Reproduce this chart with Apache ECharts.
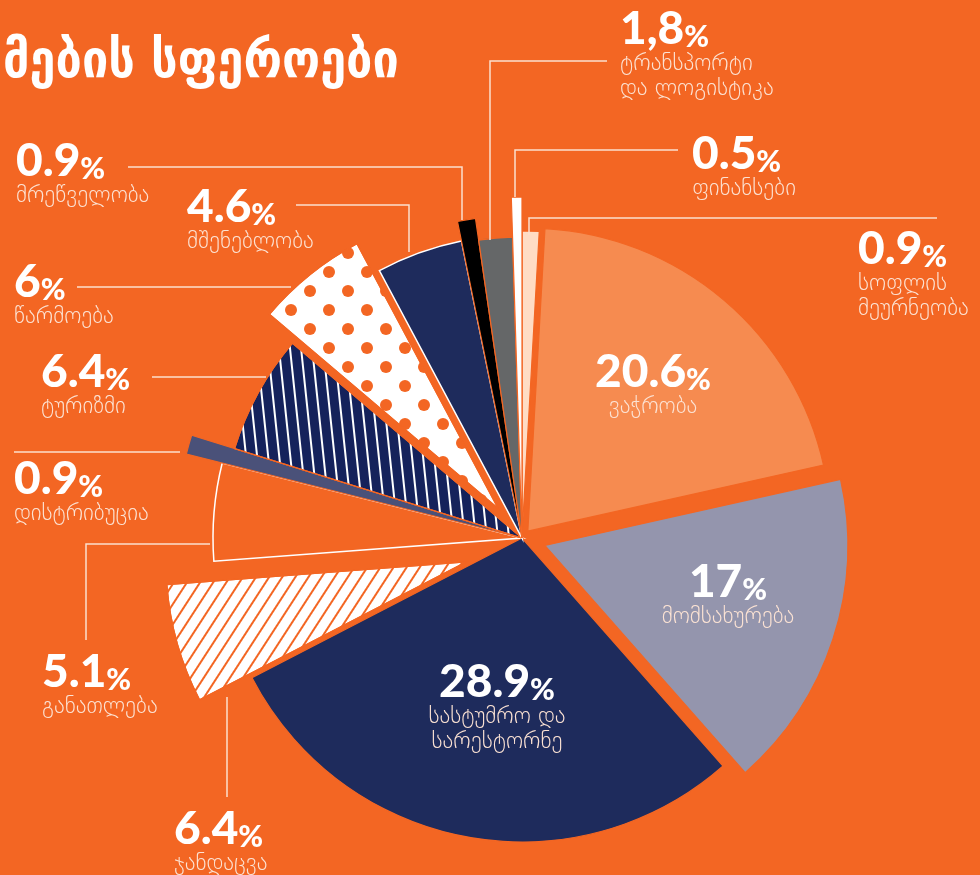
<!DOCTYPE html>
<html><head><meta charset="utf-8">
<script src="https://cdn.jsdelivr.net/npm/echarts@6/dist/echarts.min.js"></script>
<style>html,body{margin:0;padding:0;background:#F36623;} #c{width:980px;height:875px;}</style>
</head><body><div id="c"></div>
<script>
// ---- data ----
const categories = ['სოფლის\nმეურნეობა','ვაჭრობა','მომსახურება','სასტუმრო და\nსარესტორნე','ჯანდაცვა','განათლება','დისტრიბუცია','ტურიზმი','წარმოება','მშენებლობა','მრეწველობა','ტრანსპორტი\nდა ლოგისტიკა','ფინანსები'];
const values = [0.9, 20.6, 17, 28.9, 6.4, 5.1, 0.9, 6.4, 6, 4.6, 0.9, 1.8, 0.5];
const valueLabels = ['0.9','20.6','17','28.9','6.4','5.1','0.9','6.4','6','4.6','0.9','1,8','0.5'];
const titleText = 'მების სფეროები';

// ---- styling ----
const BG = '#F36623';
const BASE = [522, 538];
const stripesHealth = {symbol:'rect', color:BG, dashArrayX:[1,0], dashArrayY:[2,9], rotation: -57*Math.PI/180};
const stripesTour = {symbol:'rect', color:'#FFFFFF', dashArrayX:[1,0], dashArrayY:[1.6,8.6], rotation: 84*Math.PI/180};
const dots = {symbol:'circle', color:BG, symbolSize:1, dashArrayX:[[12,26],[0,19,12,7]], dashArrayY:[12,7], rotation:0};
const sliceStyle = [
  {r:303, off:4,  color:'#FFDCC4'},
  {r:303, off:9,  color:'#F68B50'},
  {r:303, off:24, color:'#9495AD'},
  {r:304, off:0,  color:'#1E2B5C'},
  {r:300, shift:[-56, 24], color:'#FFFFFF', decal:stripesHealth},
  {r:309, off:0,  color:BG, border:'#FFFFFF', bw:1.5},
  {r:346, off:0,  color:'#4A5179'},
  {r:301, off:0,  color:'#15225B', decal:stripesTour},
  {r:300, off:38, color:'#FFFFFF', decal:dots},
  {r:303, off:0,  color:'#1E2B5C', border:'#FFFFFF', bw:1.5},
  {r:323, off:0,  color:'#000000'},
  {r:301, off:0,  color:'#656768'},
  {r:341, off:0,  color:'#FFFFFF'}
];

const total = values.reduce((a,b)=>a+b,0);
let acc = 0;
const series = values.map((v, i) => {
  const startA = 90 - acc/total*360;
  acc += v;
  const endA = 90 - acc/total*360;
  const mid = (startA + endA)/2 * Math.PI/180;
  const s = sliceStyle[i];
  let cx, cy;
  if (s.shift) { cx = BASE[0] + s.shift[0]; cy = BASE[1] + s.shift[1]; }
  else { cx = BASE[0] + s.off*Math.cos(mid); cy = BASE[1] - s.off*Math.sin(mid); }
  return {
    type:'pie', silent:true, animation:false, z:2,
    center:[cx, cy], radius:[0, s.r],
    startAngle:90, clockwise:true,
    label:{show:false}, labelLine:{show:false},
    emphasis:{disabled:true},
    data: values.map((val, j) => {
      if (j === i) {
        const st = {color:s.color, borderColor:s.border || BG, borderWidth: s.bw != null ? s.bw : 1.2, borderJoin:'miter'};
        if (s.decal) st.decal = s.decal;
        return {value: val, name: categories[j], itemStyle: st};
      }
      return {value: val, name: categories[j], itemStyle:{color:'rgba(0,0,0,0)', borderWidth:0}};
    })
  };
});

// ---- labels ----
const labelPos = [
  {x:858, y:226, align:'left'},
  {x:653, y:349, align:'center'},
  {x:728, y:559, align:'center'},
  {x:497, y:659, align:'center'},
  {x:174, y:806, align:'left'},
  {x:42,  y:649, align:'left'},
  {x:14,  y:456, align:'left'},
  {x:41,  y:349, align:'left'},
  {x:14,  y:259, align:'left'},
  {x:187, y:184, align:'left'},
  {x:16,  y:138, align:'left'},
  {x:620, y:6,   align:'left'},
  {x:692, y:131, align:'left'}
];
const leaders = [
  [[529,235],[529,218],[937,218]],
  null, null, null,
  [[227,697],[227,797]],
  [[86,640],[86,544],[210,544]],
  [[14,452],[180,452]],
  [[152,377],[266,377]],
  [[77,287],[291,287]],
  [[296,205],[409,205],[409,252]],
  [[128,167],[462,167],[462,220]],
  [[607,61],[490,61],[490,240]],
  [[678,150],[515,150],[515,197]]
];
const rich = {
  v:{fontFamily:'Lato', fontWeight:900, fontSize:46, lineHeight:46, fill:'#FFFFFF', verticalAlign:'bottom'},
  p:{fontFamily:'Lato', fontWeight:900, fontSize:30, lineHeight:36, fill:'#FFFFFF', verticalAlign:'bottom'},
  n:{fontFamily:'DejaVu Sans', fontWeight:200, fontSize:23, lineHeight:25, fill:'#FCE3D4'}
};
const graphics = [];
leaders.forEach(pts => {
  if (!pts) return;
  graphics.push({type:'polyline', silent:true, z:100, shape:{points:pts}, style:{stroke:'#FCE0CE', lineWidth:1.5, fill:null}});
});
labelPos.forEach((p, i) => {
  const txt = '{v|' + valueLabels[i] + '}{p|%}\n' + categories[i].split('\n').map(l => '{n|' + l + '}').join('\n');
  graphics.push({type:'text', silent:true, z:100, x:p.x, y:p.y, style:{text:txt, rich:rich, align:p.align, verticalAlign:'top', fill:'#FFFFFF'}});
});
graphics.push({type:'text', silent:true, z:100, x:3, y:37, style:{text:titleText, fontFamily:'DejaVu Sans Condensed', fontWeight:'bold', fontSize:52, fill:'#FFFFFF', verticalAlign:'top'}});

const chart = echarts.init(document.getElementById('c'));
chart.setOption({backgroundColor:BG, animation:false, series:series, graphic:graphics});
</script></body></html>
